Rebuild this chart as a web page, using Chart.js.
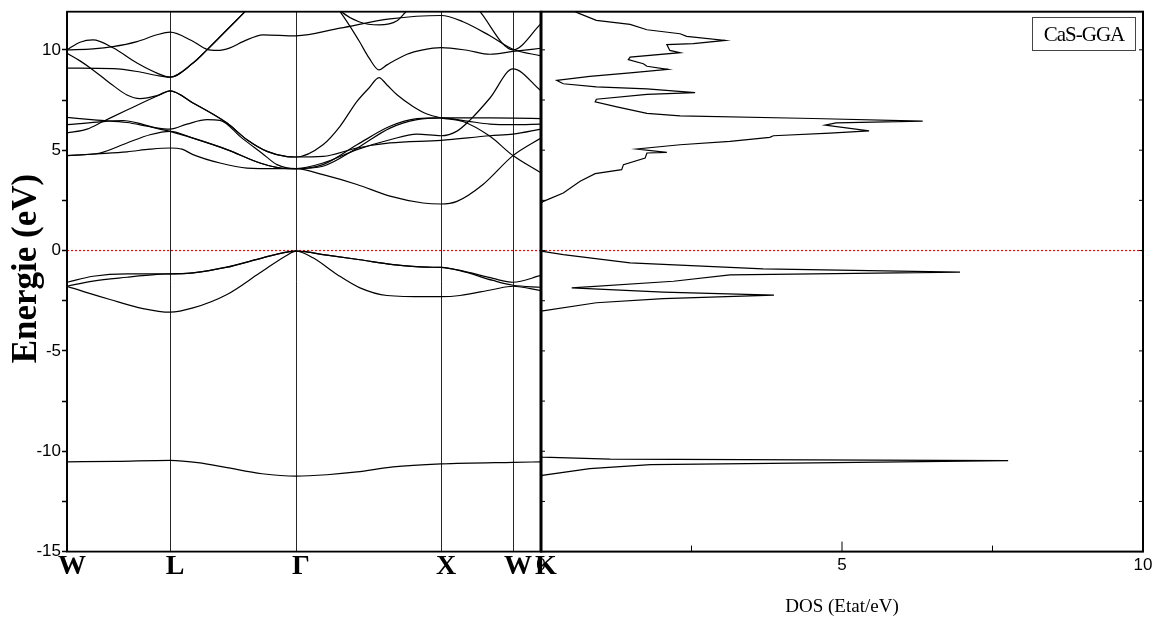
<!DOCTYPE html>
<html>
<head>
<meta charset="utf-8">
<script src="https://cdn.jsdelivr.net/npm/chart.js@4.4.0/dist/chart.umd.min.js"></script>
<style>
  body { margin: 0; background: #fff; }
  #wrap { position: relative; width: 1160px; height: 628px; }
  #wrap canvas { position: absolute; left: 0; top: 0; }
  #tag {
    position: absolute; left: 1032px; top: 17px; width: 102px; height: 32px;
    border: 1px solid #444; text-align: center; line-height: 32px;
    font-family: 'Liberation Serif', serif; font-size: 21px; letter-spacing: -1px;
  }
</style>
</head>
<body>
<div id="wrap">
  <canvas id="bands" width="1160" height="628"></canvas>
  <canvas id="dos" width="1160" height="628"></canvas>
  <div id="tag">CaS-GGA</div>
</div>
<script>
// k-path (distance along path) and high-symmetry labels
const kTicks = [0, 103, 229, 374, 446, 474];
const kLabels = ['W', 'L', 'Γ', 'X', 'W', 'K'];

// bands as [k, E(eV)]
const band1 = [[0,10.0],[26,10.05],[46,10.16],[70,10.41],[90,10.75],[103,10.88],[125,10.45],[140,10.02],[150,9.97],[163,10.1],[176,10.41],[196,10.75],[229,10.7],[273,11.08],[323,11.54],[374,11.71],[396,11.4],[423,10.7],[446,10.03],[474,9.7]];
const band2 = [[0,10.0],[13,10.38],[26,10.5],[46,10.1],[70,9.34],[90,8.84],[103,8.64],[126,9.34],[140,10.0],[160,11.0],[178,11.9],[200,13.0],[229,14.0],[255,12.9],[273,11.95],[292,11.4],[312,11.24],[330,11.45],[340,11.95],[374,13.2],[400,12.7],[413,11.9],[446,10.0],[474,11.3]];
const band3 = [[0,9.09],[46,9.06],[70,8.92],[90,8.72],[103,8.64],[126,9.34],[140,10.0],[160,11.0],[178,11.9],[200,13.0],[229,14.0],[255,12.9],[273,11.9],[292,10.45],[302,9.6],[312,9.0],[320,9.25],[340,9.78],[356,10.0],[374,10.11],[400,9.98],[423,9.78],[446,9.92],[474,10.08]];
const band4 = [[0,9.83],[13,9.45],[26,9.0],[43,8.34],[60,7.75],[73,7.57],[90,7.72],[103,7.96],[126,7.35],[160,6.35],[180,5.52],[200,4.94],[220,4.68],[229,4.66],[256,5.27],[273,6.19],[290,7.43],[302,8.1],[312,8.62],[320,8.25],[330,7.76],[346,7.18],[360,6.8],[374,6.61],[396,6.43],[423,5.69],[446,4.73],[474,3.87]];
const band5 = [[0,5.86],[20,6.05],[36,6.43],[60,7.0],[93,7.76],[103,7.96],[126,7.35],[160,6.35],[180,5.52],[200,4.94],[220,4.68],[229,4.66],[256,4.69],[290,5.11],[323,5.36],[374,5.49],[423,5.72],[446,5.8],[474,6.05]];
const band6 = [[0,6.63],[30,6.5],[60,6.38],[85,6.15],[103,6.05],[120,6.3],[140,6.52],[153,6.49],[175,5.6],[195,4.85],[210,4.28],[229,4.08],[256,4.28],[290,5.27],[323,6.19],[350,6.57],[374,6.61],[423,6.61],[446,6.6],[474,6.57]];
const band7 = [[0,6.27],[30,6.4],[56,6.48],[75,6.3],[90,6.08],[103,5.94],[126,5.6],[160,5.03],[193,4.36],[215,4.1],[229,4.08],[256,4.2],[290,5.1],[323,6.1],[350,6.52],[374,6.61],[400,6.45],[423,6.3],[446,6.27],[474,6.3]];
const band8 = [[0,4.73],[33,4.86],[60,5.36],[83,5.77],[103,5.94],[126,5.6],[160,5.03],[193,4.36],[215,4.1],[229,4.08],[256,4.36],[290,5.03],[323,5.52],[350,5.8],[374,5.72],[390,5.95],[403,6.5],[423,7.6],[446,9.05],[474,7.96]];
const band9 = [[0,4.73],[30,4.82],[60,4.92],[83,5.05],[103,5.11],[115,5.05],[126,4.78],[153,4.36],[180,4.11],[210,4.08],[229,4.08],[256,3.78],[290,3.29],[323,2.71],[356,2.37],[374,2.32],[390,2.45],[416,3.29],[446,4.73],[474,5.61]];
const valence1 = [[0,-1.58],[26,-1.28],[60,-1.16],[103,-1.16],[126,-1.11],[160,-0.83],[193,-0.4],[229,-0.03],[260,-0.23],[293,-0.46],[326,-0.7],[360,-0.83],[374,-0.84],[393,-0.99],[426,-1.39],[446,-1.58],[474,-1.24]];
const valence2 = [[0,-1.78],[26,-1.52],[60,-1.33],[90,-1.19],[103,-1.16],[126,-1.11],[160,-0.83],[193,-0.4],[229,-0.03],[260,-0.23],[293,-0.46],[326,-0.7],[360,-0.83],[374,-0.84],[393,-1.0],[426,-1.49],[446,-1.73],[474,-1.83]];
const valence3 = [[0,-1.78],[20,-2.1],[43,-2.44],[76,-2.89],[103,-3.07],[126,-2.86],[160,-2.19],[193,-1.11],[220,-0.23],[229,-0.03],[246,-0.36],[270,-1.19],[293,-1.86],[320,-2.24],[360,-2.3],[374,-2.3],[393,-2.24],[426,-1.94],[446,-1.78],[474,-2.0]];
const semicore = [[0,-10.53],[50,-10.5],[103,-10.45],[133,-10.58],[160,-10.82],[195,-11.12],[229,-11.24],[260,-11.17],[290,-11.03],[326,-10.78],[374,-10.63],[446,-10.55],[474,-10.53]];

// total DOS, read top to bottom
const dosEnergy = [12.0,11.83,11.47,11.27,11.0,10.8,10.67,10.47,10.31,10.26,9.97,9.86,9.64,9.51,9.31,9.18,9.03,8.85,8.68,8.48,8.31,8.15,8.05,7.87,7.78,7.54,7.41,7.16,6.83,6.71,6.58,6.45,6.36,6.25,5.96,5.85,5.72,5.64,5.44,5.27,5.06,4.89,4.86,4.61,4.28,4.03,3.83,3.45,2.87,2.45,2.35,-0.03,-0.2,-0.61,-0.91,-1.08,-1.21,-1.53,-1.86,-2.07,-2.22,-2.4,-2.6,-3.02,-10.25,-10.29,-10.39,-10.47,-10.6,-10.67,-10.87,-11.2,-11.3];
const dosValue  = [0.5,0.62,0.92,1.48,1.76,2.31,2.42,3.06,2.53,2.09,2.14,2.31,1.48,1.45,1.70,1.76,2.11,1.48,0.81,0.26,0.37,0.92,1.76,2.56,1.76,0.92,0.90,1.26,1.76,2.31,4.52,6.34,4.9,4.72,5.45,4.80,3.86,3.80,3.14,2.31,1.59,2.09,1.76,1.73,1.37,1.34,0.90,0.65,0.37,0.04,0,0,0.37,1.48,3.69,6.96,3.14,2.2,0.51,2.03,3.87,2.03,0.92,0,0,0.02,1.15,7.76,3.82,1.82,0.81,0.02,0];

const eMin = -15, eMax = 11.9;
const serif = "'Liberation Serif', 'Times New Roman', serif";
const sans = "'Liberation Sans', Arial, sans-serif";

function frame(width, leftWidth, innerTicks) {
  return {
    id: 'frame',
    afterDatasetsDraw(chart) {
      const ctx = chart.ctx, a = chart.chartArea;
      ctx.save();
      ctx.strokeStyle = '#000';
      ctx.lineWidth = width;
      ctx.strokeRect(a.left, a.top, a.right - a.left, a.bottom - a.top);
      ctx.lineWidth = leftWidth;
      ctx.beginPath();
      ctx.moveTo(a.left, a.top); ctx.lineTo(a.left, a.bottom);
      ctx.stroke();
      if (innerTicks) {
        ctx.lineWidth = 1;
        const xs = chart.scales.x, ys = chart.scales.y;
        ctx.beginPath();
        xs.ticks.forEach(t => {
          const px = xs.getPixelForValue(t.value);
          const len = t.value % 5 === 0 ? 10 : 6;
          ctx.moveTo(px, a.bottom); ctx.lineTo(px, a.bottom - len);
        });
        ys.ticks.forEach(t => {
          const py = ys.getPixelForValue(t.value);
          ctx.moveTo(a.left, py); ctx.lineTo(a.left + 4, py);
          ctx.moveTo(a.right, py); ctx.lineTo(a.right - 4, py);
        });
        ctx.stroke();
      }
      ctx.restore();
    }
  };
}

const allBands = [band1, band2, band3, band4, band5, band6, band7, band8, band9, valence1, valence2, valence3, semicore];
const bandSets = allBands.map(b => ({
  data: b.map(p => ({ x: p[0], y: p[1] })),
  borderColor: '#000',
  borderWidth: 1.2,
  pointRadius: 0,
  cubicInterpolationMode: 'monotone',
  fill: false
}));
bandSets.push({
  data: [{ x: kTicks[0], y: 0 }, { x: kTicks[kTicks.length - 1], y: 0 }],
  borderColor: '#ff0000', borderWidth: 1.2, borderDash: [2, 2], pointRadius: 0
});

new Chart(document.getElementById('bands'), {
  type: 'line',
  data: { datasets: bandSets },
  options: {
    responsive: false,
    animation: false,
    layout: { padding: { top: 11.7, left: 0, right: 619, bottom: 0 } },
    plugins: { legend: { display: false }, tooltip: { enabled: false } },
    scales: {
      x: {
        type: 'linear',
        min: kTicks[0],
        max: kTicks[kTicks.length - 1],
        afterBuildTicks: s => { s.ticks = kTicks.map(v => ({ value: v })); },
        afterFit: s => { s.height = 76.4; },
        ticks: {
          autoSkip: false, maxRotation: 0, padding: 1, labelOffset: 5,
          color: '#000',
          font: { family: serif, size: 28, weight: 'bold', lineHeight: 1 },
          callback: (v, i) => kLabels[i]
        },
        grid: { color: 'rgba(0,0,0,0.85)', lineWidth: 1, drawTicks: false },
        border: { display: false }
      },
      y: {
        min: eMin,
        max: eMax,
        afterFit: s => { s.width = 67; },
        ticks: {
          stepSize: 2.5, includeBounds: false, autoSkip: false, padding: 1,
          color: '#000',
          font: { family: sans, size: 17 },
          callback: v => (v % 5 === 0 ? String(v) : '')
        },
        grid: { drawOnChartArea: false, tickLength: 5, tickColor: '#000', tickWidth: 1.5 },
        border: { display: false },
        title: {
          display: true,
          text: '   Energie (eV)',
          color: '#000',
          font: { family: serif, size: 35, weight: 'bold' },
          padding: { top: 6, bottom: 0 }
        }
      }
    }
  },
  plugins: [frame(1.8, 1.6, false)]
});

new Chart(document.getElementById('dos'), {
  type: 'line',
  data: {
    datasets: [
      {
        data: dosValue.map((d, i) => ({ x: d, y: dosEnergy[i] })),
        borderColor: '#000', borderWidth: 1.2, pointRadius: 0, tension: 0, fill: false
      },
      {
        data: [{ x: 0, y: 0 }, { x: 10, y: 0 }],
        borderColor: '#ff0000', borderWidth: 1.2, borderDash: [2, 2], pointRadius: 0
      }
    ]
  },
  options: {
    responsive: false,
    animation: false,
    layout: { padding: { top: 11.7, left: 541, right: 17, bottom: 0 } },
    plugins: { legend: { display: false }, tooltip: { enabled: false } },
    scales: {
      x: {
        type: 'linear',
        min: 0,
        max: 10,
        afterFit: s => { s.height = 76.4; },
        ticks: {
          stepSize: 2.5, autoSkip: false, maxRotation: 0, padding: 5,
          color: '#000',
          font: { family: sans, size: 17, lineHeight: 1 },
          callback: v => (v % 5 === 0 ? String(v) : '')
        },
        grid: { drawOnChartArea: false, drawTicks: false },
        border: { display: false },
        title: {
          display: true,
          text: 'DOS (Etat/eV)',
          color: '#000',
          font: { family: serif, size: 19 },
          padding: { top: 0, bottom: 9.6 }
        }
      },
      y: {
        min: eMin,
        max: eMax,
        afterFit: s => { s.width = 0; },
        ticks: { display: false, stepSize: 2.5, includeBounds: false },
        grid: { drawOnChartArea: false, drawTicks: false },
        border: { display: false }
      }
    }
  },
  plugins: [frame(2, 3, true)]
});
</script>
</body>
</html>
